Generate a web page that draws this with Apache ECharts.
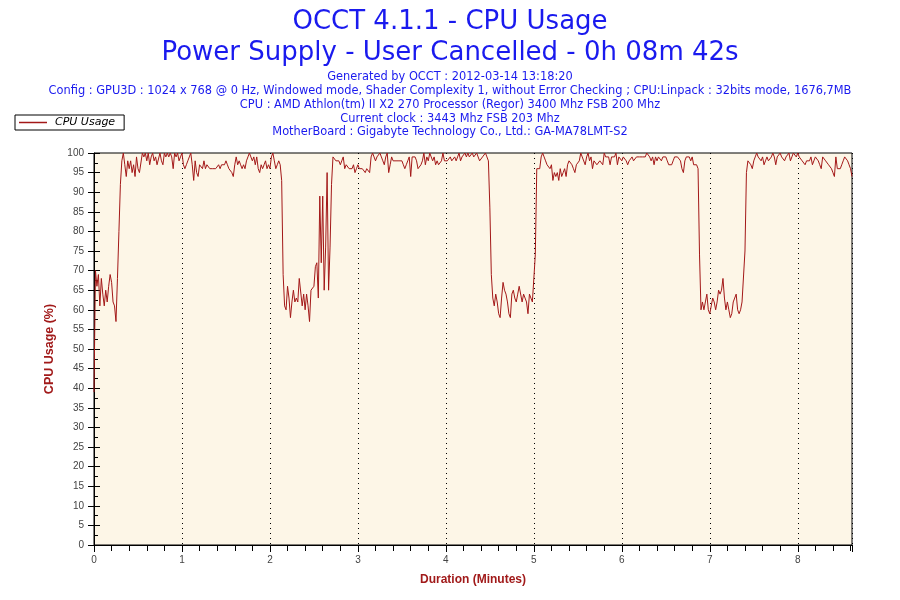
<!DOCTYPE html>
<html><head><meta charset="utf-8">
<script src="https://cdn.jsdelivr.net/npm/echarts@6/dist/echarts.min.js"></script>
<style>html,body{margin:0;padding:0;background:#fff}#c{width:900px;height:600px}</style>
</head><body><div id="c"></div>
<script>
// ---------- text ----------
const titleLines = [
  'OCCT 4.1.1 - CPU Usage',
  'Power Supply - User Cancelled - 0h 08m 42s'
];
const infoLines = [
  'Generated by OCCT : 2012-03-14 13:18:20',
  'Config : GPU3D : 1024 x 768 @ 0 Hz, Windowed mode, Shader Complexity 1, without Error Checking ; CPU:Linpack : 32bits mode, 1676,7MB',
  'CPU : AMD Athlon(tm) II X2 270 Processor (Regor) 3400 Mhz FSB 200 Mhz',
  'Current clock : 3443 Mhz FSB 203 Mhz',
  'MotherBoard : Gigabyte Technology Co., Ltd.: GA-MA78LMT-S2'
];
const seriesName = 'CPU Usage';
const xAxisTitle = 'Duration (Minutes)';
const yAxisTitle = 'CPU Usage (%)';
const xTickLabels = ['0','1','2','3','4','5','6','7','8'];
const yTickLabels = ['0','5','10','15','20','25','30','35','40','45','50','55','60','65','70','75','80','85','90','95','100'];

// ---------- data: one CPU usage sample per second ----------
const sampleSeconds = 1;
const cpuUsage = [
  // t0-19
  39,70,66,69,61,68,64,61,65,62,66,69,67,62,61,57,68,80,92,98,
  // t20-57
  100,97,94,98,96,98,95,97,94,99,
  96,95,95,100,99,100,98,100,97,99,
  100,98,99,97,97,100,98,97,100,99,
  100,99,100,99,96,100,99,100,
  // t58
  98,
  // t59-127
  99,100,97,96,97,98,99,100,97,93,
  98,95,94,97,97,96,98,96,97,97,
  96,96,96,96,96,96,97,96,97,97,
  97,98,97,96,96,95,94,97,99,97,
  98,97,96,97,96,98,99,100,99,98,
  99,97,99,96,95,97,96,97,98,96,
  97,96,99,100,98,96,97,98,97,
  // t128-163
  93,69,61,60,66,63,58,62,65,62,
  63,62,68,68,61,64,60,64,61,57,
  65,65,66,71,72,63,89,72,89,65,
  76,95,65,76,92,99,
  // t164-195
  99,98,98,98,97,98,99,96,97,97,
  96,96,96,97,95,96,97,96,96,96,
  96,95,96,96,95,99,100,99,98,99,
  99,100,
  // t196-270
  99,98,97,99,100,95,97,99,98,98,
  98,98,98,98,98,97,96,97,98,99,
  94,99,99,99,98,96,96,97,98,100,
  97,99,98,100,99,98,99,97,98,97,
  97,98,100,98,98,98,98,99,98,98,
  99,98,99,100,98,99,99,100,99,100,
  99,99,100,99,99,100,99,98,98,99,
  99,100,99,98,
  86,
  // t271-302
  69,63,61,64,62,59,58,63,67,65,
  64,62,59,58,64,65,63,62,64,66,
  66,62,64,63,62,59,64,63,62,62,
  74,96,
  // t303-359
  96,96,99,100,99,98,97,97,96,97,
  93,95,94,95,93,96,94,95,96,94,
  97,98,98,97,96,95,97,97,98,100,
  99,99,97,99,100,98,99,96,98,98,
  97,97,98,98,97,100,99,99,99,97,
  99,99,99,100,97,99,99,
  // t360-412
  98,99,99,98,97,98,98,99,98,98,
  99,99,99,99,99,99,99,100,100,99,
  98,99,97,99,98,99,99,98,99,99,
  99,98,97,97,97,98,99,99,99,99,
  98,96,95,98,99,99,99,98,99,97,
  97,97,96,
  // t413-446
  74,60,62,60,62,64,60,59,61,63,
  62,60,62,65,64,65,68,63,60,62,
  60,58,59,62,63,64,60,59,60,62,
  62,75,95,98,
  // t447-517
  98,97,96,98,99,100,99,99,98,99,
  97,98,99,98,98,99,100,99,97,99,
  99,100,99,99,98,99,99,100,98,99,
  100,100,99,100,99,99,98,98,97,98,
  98,98,99,97,98,99,99,98,97,96,
  99,99,98,98,97,97,96,95,94,99,
  96,96,96,97,98,99,99,98,97,96,
  94
];

// ---------- chart ----------
const seriesData = cpuUsage.map((v, i) => [i * sampleSeconds / 60, v]);
const xMax = (cpuUsage.length - 1) * sampleSeconds / 60;

const blue = '#1a1aee';
const red = '#a31818';
const axisTitleRed = '#a11a1a';
const labelFont = 'Liberation Sans';

const titles = [
  { text: titleLines[0], left: 'center', top: 9, padding: 0,
    textStyle: { fontFamily: 'DejaVu Sans', fontSize: 26, fontWeight: 'normal', color: blue } },
  { text: titleLines[1], left: 'center', top: 40, padding: 0,
    textStyle: { fontFamily: 'DejaVu Sans', fontSize: 26, fontWeight: 'normal', color: blue } }
];
const infoTops = [72, 86, 100, 114, 127];
infoLines.forEach((t, i) => titles.push({
  text: t, left: 'center', top: infoTops[i], padding: 0,
  textStyle: { fontFamily: 'DejaVu Sans', fontSize: 11.4, fontWeight: 'normal', color: blue }
}));

const xCommon = { type: 'value', min: 0, max: xMax, interval: 1, gridIndex: 0 };
const yCommon = { type: 'value', min: 0, max: 100, interval: 5, gridIndex: 0 };

const option = {
  animation: false,
  backgroundColor: '#ffffff',
  title: titles,
  legend: {
    data: [seriesName], left: 15, top: 115, orient: 'horizontal',
    icon: 'rect', itemWidth: 28, itemHeight: 1.5, itemGap: 6,
    backgroundColor: '#ffffff', borderColor: '#000', borderWidth: 1, borderRadius: 0,
    padding: [2, 9, 2, 4],
    itemStyle: { borderWidth: 0 },
    textStyle: { fontFamily: 'DejaVu Sans', fontSize: 11, fontStyle: 'italic', color: '#000', padding: [0, 0, 0, 3] }
  },
  grid: {
    left: 94, top: 153, width: 758, height: 392, containLabel: false,
    show: true, backgroundColor: '#fdf6e7', borderColor: '#000', borderWidth: 1
  },
  xAxis: [
    Object.assign({}, xCommon, {
      name: xAxisTitle, nameLocation: 'middle', nameGap: 29,
      nameTextStyle: { fontFamily: 'Liberation Sans', fontSize: 12, fontWeight: 'bold', color: axisTitleRed },
      axisLine: { show: true, onZero: false, lineStyle: { color: '#000', width: 1 } },
      axisTick: { show: true, inside: false, length: 4, lineStyle: { color: '#000' } },
      minorTick: { show: false },
      axisLabel: { show: true, margin: 10, fontFamily: labelFont, fontSize: 10, color: '#444',
        showMaxLabel: false,
        formatter: v => (Number.isInteger(v) && xTickLabels[v] !== undefined) ? xTickLabels[v] : '' },
      splitLine: { show: true, lineStyle: { color: '#000', width: 1, type: [1, 4] } }
    }),
    Object.assign({}, xCommon, {
      axisLine: { show: false },
      axisTick: { show: true, inside: true, length: 7, lineStyle: { color: '#000' } },
      minorTick: { show: true, splitNumber: 5, length: 6, lineStyle: { color: '#000' } },
      axisLabel: { show: false }, splitLine: { show: false }
    })
  ],
  yAxis: [
    Object.assign({}, yCommon, {
      name: yAxisTitle, nameLocation: 'middle', nameGap: 35, nameRotate: 90,
      nameTextStyle: { fontFamily: 'Liberation Sans', fontSize: 12.5, fontWeight: 'bold', color: axisTitleRed },
      axisLine: { show: true, onZero: false, lineStyle: { color: '#000', width: 1 } },
      axisTick: { show: true, inside: false, length: 6, lineStyle: { color: '#000' } },
      minorTick: { show: false },
      axisLabel: { show: true, margin: 10, fontFamily: labelFont, fontSize: 10, color: '#444',
        formatter: v => { const k = Math.round(v / 5); return yTickLabels[k] !== undefined ? yTickLabels[k] : ''; } },
      splitLine: { show: false }
    }),
    Object.assign({}, yCommon, {
      position: 'left',
      axisLine: { show: false },
      axisTick: { show: true, inside: true, length: 6, lineStyle: { color: '#000' } },
      minorTick: { show: true, splitNumber: 2, length: 4, lineStyle: { color: '#000' } },
      axisLabel: { show: false }, splitLine: { show: false }
    })
  ],
  series: [{
    name: seriesName, type: 'line', xAxisIndex: 0, yAxisIndex: 0,
    data: seriesData, showSymbol: false, symbol: 'none',
    lineStyle: { color: red, width: 1 }, itemStyle: { color: red },
    emphasis: { disabled: true }
  }]
};

const chart = echarts.init(document.getElementById('c'), null, { renderer: 'canvas' });
chart.setOption(option);
</script>
</body></html>
